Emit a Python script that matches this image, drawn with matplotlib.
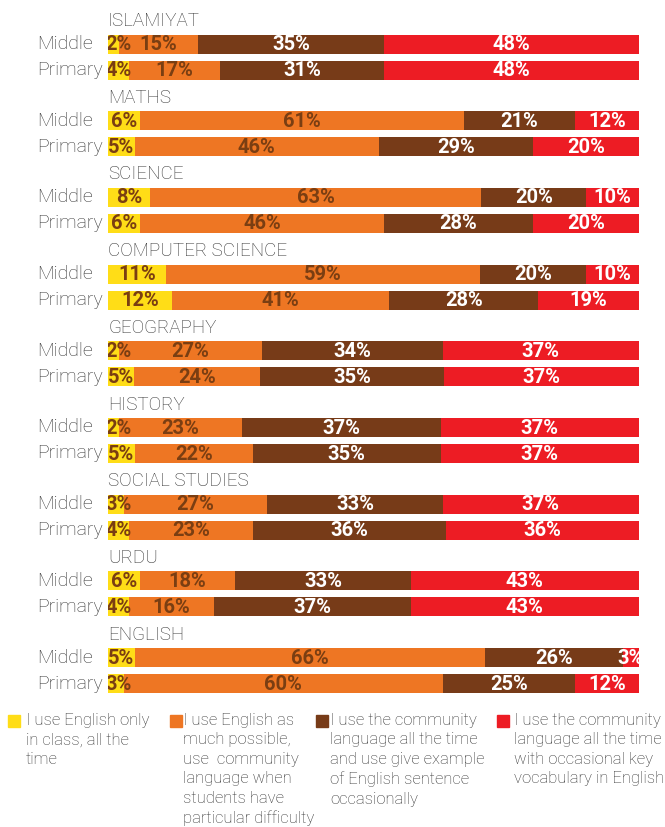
import numpy as np
import matplotlib
matplotlib.use('Agg')
import matplotlib.pyplot as plt
from matplotlib.patches import Rectangle

plt.rcParams['font.family'] = ['Roboto', 'DejaVu Sans']

subjects = ['ISLAMIYAT', 'MATHS', 'SCIENCE', 'COMPUTER SCIENCE', 'GEOGRAPHY',
            'HISTORY', 'SOCIAL STUDIES', 'URDU', 'ENGLISH']
levels = ['Middle', 'Primary']

# one list per answer, per level (percent of teachers)
english_only_mid = [2, 6, 8, 11, 2, 2, 3, 6, 5]
english_only_pri = [4, 5, 6, 12, 5, 5, 4, 4, 3]
english_mostly_mid = [15, 61, 63, 59, 27, 23, 27, 18, 66]
english_mostly_pri = [17, 46, 46, 41, 24, 22, 23, 16, 60]
community_examples_mid = [35, 21, 20, 20, 34, 37, 33, 33, 26]
community_examples_pri = [31, 29, 28, 28, 35, 35, 36, 37, 25]
community_vocab_mid = [48, 12, 10, 10, 37, 37, 37, 43, 3]
community_vocab_pri = [48, 20, 20, 19, 37, 37, 36, 43, 12]

legend_labels = [
    'I use English only\nin class, all the\ntime',
    'I use English as\nmuch possible,\nuse  community\nlanguage when\nstudents have\nparticular difficulty',
    'I use the community\nlanguage all the time\nand use give example\nof English sentence\noccasionally',
    'I use the community\nlanguage all the time\nwith occasional key\nvocabulary in English',
]

colors = ['#FFDD17', '#EE7623', '#773B18', '#ED1C24']
text_colors = ['#7A3E12', '#7A3E12', 'white', 'white']
dark = '#333333'

W, H = 665, 827
fig = plt.figure(figsize=(W / 100, H / 100), dpi=100)
x0, x1 = 108, 639
ax = fig.add_axes([x0 / W, 1 - 700 / H, (x1 - x0) / W, 700 / H])
ax.set_xlim(0, 100)
ax.set_ylim(700, 0)
ax.axis('off')

mid = np.array([english_only_mid, english_mostly_mid, community_examples_mid, community_vocab_mid]).T
pri = np.array([english_only_pri, english_mostly_pri, community_examples_pri, community_vocab_pri]).T

bar_h = 19
step = 76.7
lab_tr = ax.get_yaxis_transform()

for i, subj in enumerate(subjects):
    ym = 44 + i * step
    ax.text(0, ym - 23, subj, fontsize=13.5, color=dark, va='center', ha='left',
            fontweight='light')
    for j, (vals, y) in enumerate([(mid[i], ym), (pri[i], ym + 26)]):
        pct = vals / vals.sum() * 100
        left = np.concatenate([[0], np.cumsum(pct)[:-1]])
        ax.barh(y, pct, left=left, height=bar_h, color=colors, linewidth=0)
        for k in range(4):
            cx = max(left[k] + pct[k] / 2, 2.0)
            ax.text(cx, y + 0.5, f'{vals[k]}%', ha='center', va='center',
                    fontsize=14.5, fontweight='bold', color=text_colors[k],
                    clip_on=True)
        ax.text(-71 / (x1 - x0), y, levels[j], transform=lab_tr, ha='left',
                va='center', fontsize=14, color=dark, fontweight='light')

# legend
sq_x = [8, 170, 316, 497]
txt_x = [26, 183, 330, 514]
for k in range(4):
    fig.patches.append(Rectangle((sq_x[k] / W, 1 - 727 / H), 12 / W, 12 / H,
                                 transform=fig.transFigure, color=colors[k]))
    fig.text(txt_x[k] / W, 1 - 713 / H, legend_labels[k], ha='left', va='top',
             fontsize=12, color=dark, fontweight='light', linespacing=1.37)

fig.savefig('out.png', dpi=100)
